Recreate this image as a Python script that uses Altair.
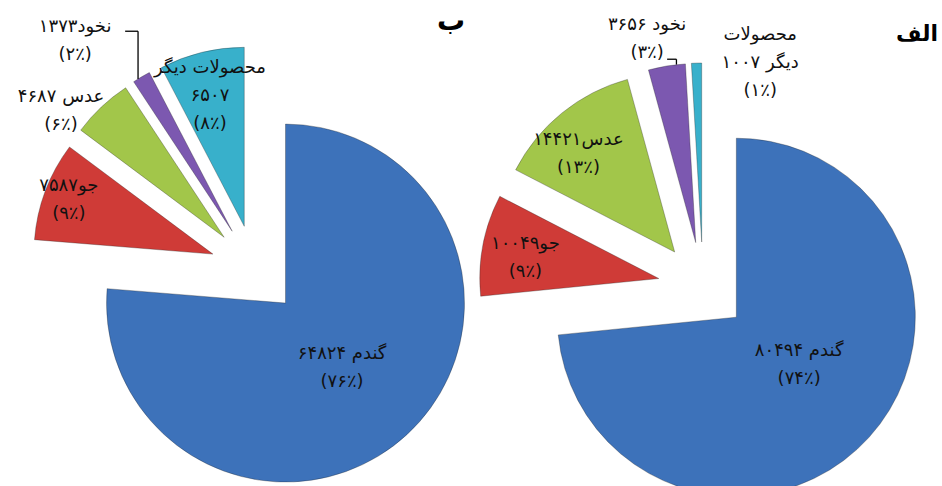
import altair as alt
import pandas as pd

# ---------------- data ----------------
PIES = ["الف", "ب"]
CROPS = ["گندم", "جو", "عدس", "نخود", "محصولات دیگر"]
VALUES_ALEF = [80494, 10049, 14421, 3656, 1007]
VALUES_BE = [64824, 7587, 4687, 1373, 6507]
PCT_ALEF = [74, 9, 13, 3, 1]
PCT_BE = [76, 9, 6, 2, 8]

# ---------------- styles ----------------
COLORS = ["#3d72ba", "#cf3b37", "#a2c64a", "#7c58b0", "#38b0cb"]
LABEL_FMT_ALEF = ["{n} {v}\n({p}٪)", "{n}{v}\n({p}٪)", "{n}{v}\n({p}٪)",
                  "{n} {v}\n({p}٪)", "{n1}\n{n2} {v}\n({p}٪)"]
LABEL_FMT_BE = ["{n} {v}\n({p}٪)", "{n}{v}\n({p}٪)", "{n} {v}\n({p}٪)",
                "{n}{v}\n({p}٪)", "{n}\n{v}\n({p}٪)"]
CENTER_X = {"الف": 703, "ب": 255}
CENTER_Y = {"الف": 287, "ب": 270}
RADIUS = 179
EXPLODE = 45
LABEL_R = {"الف": [124, 180, 182, 254, 231], "ب": [131, 199, 251, 291, 180]}
LABEL_DA = {"الف": [-3, -1.5, -4.2, -3.4, 16], "ب": [1, 0, -7.3, -7.7, -0.7]}
LINE_H = 28
LEADER_DX = {"الف": 20, "ب": 50}
LEADER_DY = {"الف": 20, "ب": -10}
LEADER_DA = {"الف": 2.5, "ب": -1}
FONT = "DejaVu Sans"
FONT_SIZE = 18

FA = str.maketrans("0123456789", "۰۱۲۳۴۵۶۷۸۹")


def fa(x):
    return str(x).translate(FA)


rows = []
for pie, values, pcts, fmts in [(PIES[0], VALUES_ALEF, PCT_ALEF, LABEL_FMT_ALEF),
                                (PIES[1], VALUES_BE, PCT_BE, LABEL_FMT_BE)]:
    for i, (crop, v, p, f) in enumerate(zip(CROPS, values, pcts, fmts)):
        parts = crop.split(" ")
        label = f.format(n=crop, n1=parts[0], n2=parts[-1], v=fa(v), p=fa(p))
        rows.append({"pie": pie, "crop": crop, "order": i, "value": v,
                     "label": label, "nlines": label.count("\n") + 1})
df = pd.DataFrame(rows)


def per_pie(d):
    return f"(datum.pie === '{PIES[0]}' ? {d[PIES[0]]} : {d[PIES[1]]})"


def per_slice(d):
    return (f"(datum.pie === '{PIES[0]}' ? {list(d[PIES[0]])}[datum.order] "
            f": {list(d[PIES[1]])}[datum.order])")


base = (
    alt.Chart(df)
    .transform_joinaggregate(total="sum(value)", groupby=["pie"])
    .transform_window(cum="sum(value)", sort=[alt.SortField("order")],
                      groupby=["pie"], frame=[None, 0])
    .transform_calculate(t0="2*PI*(datum.cum - datum.value)/datum.total")
    .transform_calculate(t1="2*PI*datum.cum/datum.total")
    .transform_calculate(mid="(datum.t0 + datum.t1)/2")
    .transform_calculate(cx0=per_pie(CENTER_X))
    .transform_calculate(cy0=per_pie(CENTER_Y))
    .transform_calculate(ax=f"datum.cx0 + {EXPLODE}*sin(datum.mid)")
    .transform_calculate(ay=f"datum.cy0 - {EXPLODE}*cos(datum.mid)")
    .transform_calculate(la=f"datum.mid + {per_slice(LABEL_DA)}*PI/180")
    .transform_calculate(lr=per_slice(LABEL_R))
    .transform_calculate(lx="datum.cx0 + datum.lr*sin(datum.la)")
    .transform_calculate(ly="datum.cy0 - datum.lr*cos(datum.la)")
    .transform_calculate(ly1=f"datum.ly - (datum.nlines - 1)*{LINE_H}/2")
)

arcs = base.mark_arc(outerRadius=RADIUS, stroke="#1a1a1a", strokeOpacity=0.3,
                     strokeWidth=1).encode(
    x=alt.X("ax:Q", scale=None, axis=None),
    y=alt.Y("ay:Q", scale=None, axis=None),
    theta=alt.Theta("t0:Q", scale=None, stack=None),
    theta2=alt.Theta2("t1"),
    color=alt.Color("crop:N", scale=alt.Scale(domain=CROPS, range=COLORS), legend=None),
)

labels = base.mark_text(font=FONT, fontSize=FONT_SIZE, lineBreak="\n", lineHeight=LINE_H,
                        align="center", baseline="middle", color="#111111").encode(
    x=alt.X("lx:Q", scale=None, axis=None),
    y=alt.Y("ly1:Q", scale=None, axis=None),
    text="label:N",
)

leader = (
    base.transform_filter(alt.datum.crop == CROPS[3])
    .transform_calculate(pe=f"datum.mid + {per_pie(LEADER_DA)}*PI/180")
    .transform_calculate(px=f"datum.cx0 + {EXPLODE + RADIUS}*sin(datum.pe)")
    .transform_calculate(py=f"datum.cy0 - {EXPLODE + RADIUS}*cos(datum.pe)")
    .transform_calculate(sx=f"datum.lx + {per_pie(LEADER_DX)}")
    .transform_calculate(hy=f"datum.ly + {per_pie(LEADER_DY)}")
)
seg_h = leader.mark_rule(color="black", strokeWidth=1.3).encode(
    x=alt.X("sx:Q", scale=None, axis=None), x2=alt.X2("px"),
    y=alt.Y("hy:Q", scale=None, axis=None))
seg_v = leader.mark_rule(color="black", strokeWidth=1.3).encode(
    x=alt.X("px:Q", scale=None, axis=None),
    y=alt.Y("hy:Q", scale=None, axis=None), y2=alt.Y2("py"))

title_a = alt.Chart(pd.DataFrame({"t": [PIES[0]]})).mark_text(
    font=FONT, fontSize=22, fontWeight="bold", align="right", baseline="alphabetic",
    color="black").encode(text="t:N", x=alt.value(938), y=alt.value(41))
title_b = alt.Chart(pd.DataFrame({"t": [PIES[1]]})).mark_text(
    font=FONT, fontSize=28, fontWeight="bold", align="center", baseline="alphabetic",
    color="black").encode(text="t:N", x=alt.value(451), y=alt.value(30))

chart = alt.layer(arcs, labels, seg_h, seg_v, title_a, title_b).properties(
    width=942, height=486, autosize=alt.AutoSizeParams(type="none"), padding=0,
    background="white",
).configure_view(stroke=None)

chart.save("out.html", embed_options={"renderer": "svg", "actions": False})
